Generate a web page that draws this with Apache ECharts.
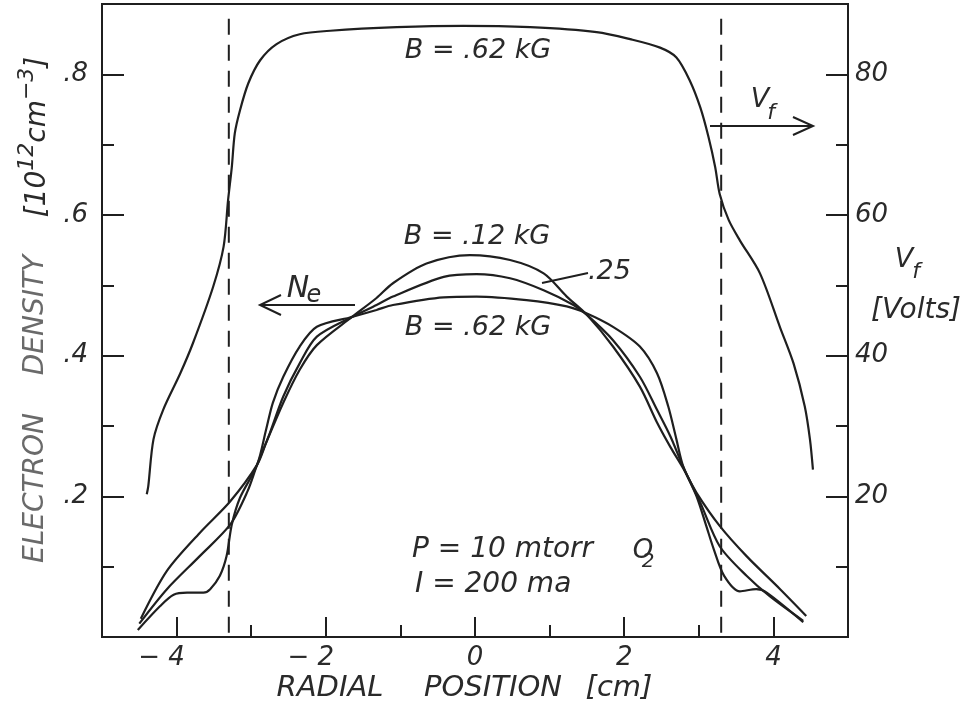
<!DOCTYPE html>
<html>
<head>
<meta charset="utf-8">
<script src="https://cdn.jsdelivr.net/npm/echarts@6/dist/echarts.min.js"></script>
<style>
  html, body { margin: 0; padding: 0; background: #ffffff; }
  #main { width: 971px; height: 706px; }
</style>
</head>
<body>
<div id="main"></div>
<script>
// Axis ticks
const radialMajor = [-4, -2, 0, 2, 4];
const radialMinor = [-3, -1, 1, 3];
const densityMajor = [0.2, 0.4, 0.6, 0.8];
const densityMinor = [0.1, 0.3, 0.5, 0.7];
const voltMajor = [20, 40, 60, 80];
const voltMinor = [10, 30, 50, 70];

// Electron density profiles, 10^12 cm^-3, vs radial position (cm)
const ne012X = [-4.48, -4.13, -3.69, -3.28, -2.92, -2.80, -2.57, -2.35, -2.12, -1.65, -1.32, -1.10, -0.65, -0.07, 0.47, 0.92, 1.23, 1.50, 1.85, 2.21, 2.44, 2.62, 2.79, 2.97, 3.28, 3.64, 4.09, 4.44];
const ne012Y = [0.026, 0.094, 0.148, 0.193, 0.245, 0.276, 0.333, 0.380, 0.415, 0.455, 0.482, 0.503, 0.531, 0.543, 0.536, 0.517, 0.484, 0.458, 0.413, 0.356, 0.305, 0.270, 0.240, 0.205, 0.158, 0.115, 0.068, 0.030];

const ne025X = [-4.50, -4.13, -3.69, -3.28, -3.05, -2.92, -2.75, -2.57, -2.35, -2.12, -1.65, -1.32, -1.10, -0.42, 0.02, 0.47, 0.92, 1.32, 1.50, 1.85, 2.21, 2.44, 2.62, 2.79, 3.02, 3.28, 3.64, 3.95, 4.40];
const ne025Y = [0.019, 0.068, 0.115, 0.160, 0.207, 0.245, 0.290, 0.342, 0.389, 0.427, 0.455, 0.472, 0.484, 0.512, 0.516, 0.510, 0.493, 0.472, 0.458, 0.422, 0.370, 0.323, 0.285, 0.242, 0.191, 0.129, 0.087, 0.058, 0.023];

const ne062X = [-4.52, -4.22, -4.04, -3.86, -3.64, -3.55, -3.42, -3.33, -3.26, -3.15, -2.92, -2.80, -2.71, -2.57, -2.35, -2.12, -1.65, -1.32, -1.10, -0.42, 0.02, 0.69, 1.23, 1.50, 1.85, 2.21, 2.44, 2.59, 2.70, 2.79, 2.97, 3.10, 3.20, 3.34, 3.55, 3.77, 3.91, 4.40];
const ne062Y = [0.010, 0.044, 0.060, 0.063, 0.063, 0.068, 0.087, 0.115, 0.160, 0.198, 0.245, 0.295, 0.333, 0.370, 0.413, 0.441, 0.455, 0.465, 0.472, 0.483, 0.484, 0.479, 0.470, 0.460, 0.441, 0.413, 0.375, 0.328, 0.281, 0.243, 0.200, 0.158, 0.125, 0.087, 0.065, 0.068, 0.063, 0.021];

// Floating potential at B = .62 kG, volts
const vfX = [-4.40, -4.38, -4.31, -4.18, -3.95, -3.78, -3.51, -3.37, -3.31, -3.26, -3.22, -3.15, -3.04, -2.88, -2.66, -2.35, -1.94, -1.05, -0.16, 0.74, 1.63, 2.08, 2.48, 2.70, 2.88, 3.02, 3.13, 3.22, 3.28, 3.40, 3.55, 3.82, 4.09, 4.27, 4.42, 4.49, 4.53];
const vfY = [20.3, 21.4, 28.1, 32.3, 37.5, 41.8, 49.8, 55.5, 62.1, 66.8, 71.6, 74.9, 78.7, 82.0, 84.3, 85.7, 86.2, 86.7, 86.9, 86.7, 86.0, 85.0, 83.8, 82.4, 79.1, 75.3, 71.1, 66.8, 63.0, 59.3, 56.4, 51.7, 44.0, 38.9, 32.8, 28.1, 23.8];

// Dashed boundary markers
const boundaryX = [-3.3, 3.3];
const boundarySpan = [0.006, 0.88];

const INK = '#1f1f1f';
const TXT = '#2a2a2a';
const FONT = '"DejaVu Sans", "Liberation Sans", sans-serif';

const pairs = (xs, ys) => xs.map((x, i) => [x, ys[i]]);

const lineSeries = (name, xs, ys, yAxisIndex) => ({
  name, type: 'line', xAxisIndex: 0, yAxisIndex,
  data: pairs(xs, ys), smooth: 0.3, showSymbol: false, symbol: 'none',
  lineStyle: { color: INK, width: 2.2 }, silent: true, z: 3
});

const dashSeries = boundaryX.map((x, i) => ({
  name: 'boundary' + i, type: 'line', xAxisIndex: 0, yAxisIndex: 0,
  data: boundarySpan.map(v => [x, v]), showSymbol: false, symbol: 'none',
  lineStyle: { color: INK, width: 2, type: [16, 10] }, silent: true, z: 2
}));

const labelFont = { fontFamily: FONT, fontStyle: 'italic', fontSize: 26, color: TXT };

const tickAxisX = (values, length, withLabels) => ({
  type: 'value', min: -5, max: 5, position: 'bottom', gridIndex: 0,
  axisLine: { show: withLabels, onZero: false, lineStyle: { color: INK, width: 2 } },
  axisTick: { show: true, inside: true, length, customValues: values, lineStyle: { color: INK, width: 2 } },
  axisLabel: withLabels ? Object.assign({
    show: true, customValues: values, margin: 8,
    formatter: v => v < 0 ? '{neg|\u2212 ' + Math.abs(v) + '}' : '{pos|' + v + '}',
    rich: {
      neg: Object.assign({ padding: [0, 30, 0, 0] }, labelFont),
      pos: Object.assign({}, labelFont)
    }
  }, labelFont) : { show: false },
  splitLine: { show: false }
});

const tickAxisY = (position, min, max, values, length, withLabels, fmt, margin) => ({
  type: 'value', min, max, position, gridIndex: 0,
  axisLine: { show: withLabels, onZero: false, lineStyle: { color: INK, width: 2 } },
  axisTick: { show: true, inside: true, length, customValues: values, lineStyle: { color: INK, width: 2 } },
  axisLabel: withLabels ? Object.assign({ show: true, customValues: values, margin, formatter: fmt }, labelFont) : { show: false },
  splitLine: { show: false }
});

const txt = (text, x, y, size, extra) => Object.assign({
  type: 'text', x, y, silent: true,
  style: Object.assign({
    text, fill: TXT, fontFamily: FONT, fontStyle: 'italic', fontSize: size,
    align: 'center', verticalAlign: 'middle'
  }, extra || {})
});

const seg = (points) => ({
  type: 'polyline', silent: true,
  shape: { points },
  style: { stroke: INK, lineWidth: 2, fill: null }
});

const chart = echarts.init(document.getElementById('main'), null, { renderer: 'canvas' });

chart.setOption({
  backgroundColor: '#ffffff',
  animation: false,
  grid: { left: 102, right: 123, top: 4, bottom: 69, show: true, borderColor: INK, borderWidth: 2, backgroundColor: 'transparent' },
  xAxis: [
    tickAxisX(radialMajor, 20, true),
    tickAxisX(radialMinor, 12, false)
  ],
  yAxis: [
    tickAxisY('left', 0, 0.9, densityMajor, 22, true, v => v.toFixed(1).replace(/^0/, ''), 14),
    tickAxisY('left', 0, 0.9, densityMinor, 12, false),
    tickAxisY('right', 0, 90, voltMajor, 22, true, v => String(v), 7),
    tickAxisY('right', 0, 90, voltMinor, 12, false)
  ],
  series: [
    ...dashSeries,
    lineSeries('B = .12 kG', ne012X, ne012Y, 0),
    lineSeries('B = .25 kG', ne025X, ne025Y, 0),
    lineSeries('B = .62 kG', ne062X, ne062Y, 0),
    lineSeries('Vf', vfX, vfY, 2)
  ],
  graphic: {
    elements: [
      // curve labels
      txt('B = .62 kG', 478, 51, 27),
      txt('B = .12 kG', 477, 237, 27),
      txt('.25', 588, 272, 27, { align: 'left' }),
      seg([[542, 283], [588, 273]]),
      txt('B = .62 kG', 478, 328, 27),

      // N_e arrow
      txt('N', 298, 289, 30),
      txt('e', 314, 296, 24),
      seg([[260, 305], [355, 305]]),
      seg([[281, 295], [260, 305], [281, 315]]),

      // V_f arrow
      txt('V', 760, 100, 27),
      txt('f', 771, 113, 22),
      seg([[710, 126], [813, 126]]),
      seg([[793, 117], [813, 126], [793, 135]]),

      // right axis title
      txt('V', 904, 260, 27),
      txt('f', 916, 272, 22),
      txt('[Volts]', 916, 311, 28),

      // conditions
      txt('P = 10 mtorr', 412, 550, 28, { align: 'left' }),
      txt('O', 643, 551, 26),
      txt('2', 648, 562, 20),
      txt('I = 200 ma', 415, 585, 28, { align: 'left' }),

      // x axis title
      txt('RADIAL', 330, 688, 29),
      txt('POSITION', 493, 688, 29),
      txt('[cm]', 619, 688, 29),

      // left axis title (reads upward)
      Object.assign(txt('ELECTRON', 36, 488, 28, { fill: '#6a6a6a' }), { rotation: Math.PI / 2 }),
      Object.assign(txt('DENSITY', 36, 315, 28, { fill: '#6a6a6a' }), { rotation: Math.PI / 2 }),
      {
        type: 'text', x: 34, y: 137, rotation: Math.PI / 2, silent: true,
        style: {
          text: '{b|[10}{s|12}{b|cm}{s|\u22123}{b|]}',
          align: 'center', verticalAlign: 'middle', fill: TXT,
          rich: {
            b: { fontFamily: FONT, fontStyle: 'italic', fontSize: 28, lineHeight: 36, verticalAlign: 'bottom', fill: TXT },
            s: { fontFamily: FONT, fontStyle: 'italic', fontSize: 22, lineHeight: 28, verticalAlign: 'top', fill: TXT }
          }
        }
      }
    ]
  }
});
</script>
</body>
</html>
